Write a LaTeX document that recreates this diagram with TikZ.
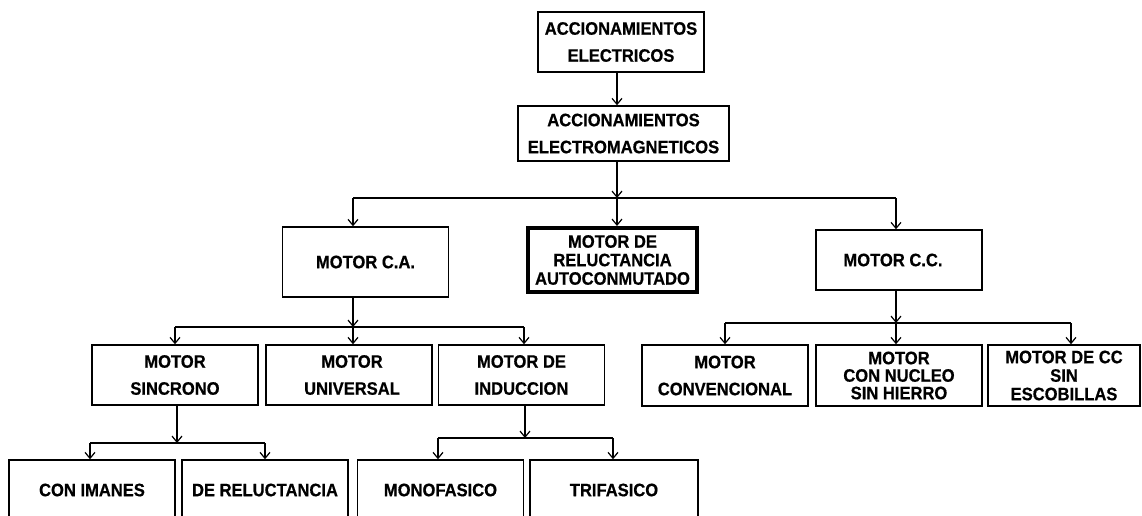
\documentclass[tikz,border=0pt]{standalone}
\usepackage{fontspec}
\setmainfont{Liberation Sans}[BoldFeatures={FakeStretch=0.92,FakeBold=0.6}]
\usetikzlibrary{arrows.meta}
\newcommand\lbl[1]{\fontsize{18}{#1}\selectfont\bfseries}
\begin{document}
\begin{tikzpicture}[x=1pt,y=-1pt,
  box/.style={draw, line width=1.5pt, inner sep=0pt, align=center,
    minimum width=166pt, minimum height=60pt, font=\lbl{27}},
  heavybox/.style={box, line width=4pt},
  link/.style={line width=1.4pt},
  arr/.style={link, -{Straight Barb[length=6pt,width=10pt,line width=1.2pt]}}]
\useasboundingbox (0,0) rectangle (1142,515);
\fill[white] (0,0) rectangle (1142,515);
\clip (0,0) rectangle (1142,515);

% top of the tree
\node[box] (ae) at (621,42) {ACCIONAMIENTOS\\ELECTRICOS};
\node[box, minimum width=211pt, minimum height=55pt] (aem) at (623.5,133.5) {ACCIONAMIENTOS\\ELECTROMAGNETICOS};

% second level
\node[box, minimum height=70pt] (ca) at (365.5,262) {MOTOR C.A.};
\node[heavybox, minimum width=169pt, minimum height=64pt, font=\lbl{18.5}] (rel) at (612.5,260) {\raisebox{-5pt}{\parbox{165pt}{\centering MOTOR DE\\RELUCTANCIA\\AUTOCONMUTADO}}};
\node[box] (cc) at (899,260) {\hspace*{-12pt}MOTOR C.C.};

% AC motors
\node[box] (sin) at (175,375) {MOTOR\\SINCRONO};
\node[box] (uni) at (349,375) {\hspace*{6pt}MOTOR\\\hspace*{6pt}UNIVERSAL};
\node[box] (ind) at (521.5,375) {MOTOR DE\\INDUCCION};

% DC motors
\node[box, minimum height=61pt] (conv) at (725,375.5) {MOTOR\\CONVENCIONAL};
\node[box, minimum height=61pt, font=\lbl{17.5}] (nuc) at (899,375.5) {MOTOR\\CON NUCLEO\\SIN HIERRO};
\node[box, minimum width=152pt, minimum height=61pt, font=\lbl{18.5}] (esc) at (1064,375.5) {MOTOR DE CC\\SIN\\ESCOBILLAS};

% synchronous and induction variants
\node[box, minimum height=60pt] (ima) at (92,490) {CON IMANES};
\node[box, minimum height=60pt] (drel) at (265,490) {DE RELUCTANCIA};
\node[box, minimum height=60pt] (mono) at (440.5,490) {MONOFASICO};
\node[box, minimum width=168pt, minimum height=60pt] (tri) at (614,490) {TRIFASICO};

% junction points on the horizontal bars
\coordinate (j0) at (617,106);
\coordinate (j1) at (617,198);
\coordinate (j2) at (353,327);
\coordinate (j3) at (896,323);
\coordinate (j4) at (177,443);
\coordinate (j5) at (525,438);

% electric -> electromagnetic
\draw[arr] (ae.south -| j0) -- (aem.north -| j0);

% electromagnetic -> AC / SRM / DC
\draw[arr] (aem.south -| j1) -- (j1);
\draw[link] ([xshift=-12.5pt]ca.north |- j1) -- ([xshift=-3pt]cc.north |- j1);
\draw[arr] ([xshift=-12.5pt]ca.north |- j1) -- ([xshift=-12.5pt]ca.north);
\draw[arr] (j1) -- (rel.north -| j1);
\draw[arr] ([xshift=-3pt]cc.north |- j1) -- ([xshift=-3pt]cc.north);

% AC -> synchronous / universal / induction
\draw[arr] (ca.south -| j2) -- (j2);
\draw[link] (sin.north |- j2) -- ([xshift=2.5pt]ind.north |- j2);
\draw[arr] (sin.north |- j2) -- (sin.north);
\draw[arr] (j2) -- (uni.north -| j2);
\draw[arr] ([xshift=2.5pt]ind.north |- j2) -- ([xshift=2.5pt]ind.north);

% DC -> conventional / coreless / brushless
\draw[arr] (cc.south -| j3) -- (j3);
\draw[link] (conv.north |- j3) -- ([xshift=7pt]esc.north |- j3);
\draw[arr] (conv.north |- j3) -- (conv.north);
\draw[arr] (j3) -- (nuc.north -| j3);
\draw[arr] ([xshift=7pt]esc.north |- j3) -- ([xshift=7pt]esc.north);

% synchronous -> permanent magnet / reluctance
\draw[arr] (sin.south -| j4) -- (j4);
\draw[link] ([xshift=-2pt]ima.north |- j4) -- (drel.north |- j4);
\draw[arr] ([xshift=-2pt]ima.north |- j4) -- ([xshift=-2pt]ima.north);
\draw[arr] (drel.north |- j4) -- (drel.north);

% induction -> single phase / three phase
\draw[arr] (ind.south -| j5) -- (j5);
\draw[link] ([xshift=-2.5pt]mono.north |- j5) -- ([xshift=-1pt]tri.north |- j5);
\draw[arr] ([xshift=-2.5pt]mono.north |- j5) -- ([xshift=-2.5pt]mono.north);
\draw[arr] ([xshift=-1pt]tri.north |- j5) -- ([xshift=-1pt]tri.north);
\end{tikzpicture}
\end{document}
